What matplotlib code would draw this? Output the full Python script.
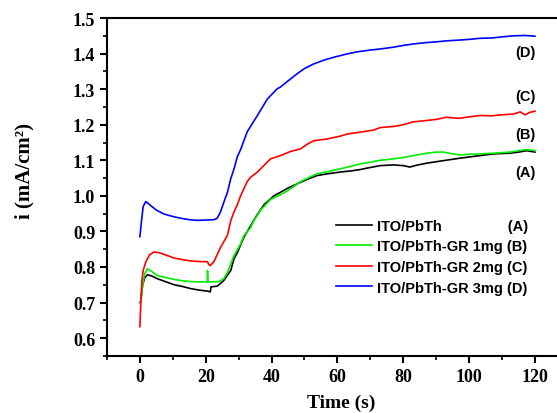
import matplotlib
matplotlib.use("Agg")
import matplotlib.pyplot as plt
from matplotlib.ticker import MultipleLocator

# ITO/PbTh (A)
t_a = [0, 0.3, 0.8, 1.5, 2.3, 3.5, 5.3, 8, 10.4, 13, 15.5, 18, 20.5, 21.4, 21.6,
       23.5, 25.5, 27.6, 28.6, 29.6, 31.6, 33.6, 35.5, 37.7, 40.7, 42.7, 45, 48.8,
       51, 53.8, 57, 60.9, 64, 67, 69, 73, 77, 80, 82, 84, 87.2, 92.2, 97.3,
       102.3, 107.4, 112.4, 115, 117.5, 120]
i_a = [0.70, 0.705, 0.748, 0.770, 0.778, 0.775, 0.767, 0.758, 0.750, 0.745, 0.739,
       0.735, 0.732, 0.730, 0.744, 0.746, 0.762, 0.790, 0.823, 0.840, 0.884, 0.915,
       0.945, 0.975, 1.000, 1.010, 1.022, 1.038, 1.047, 1.057, 1.062, 1.067, 1.070,
       1.074, 1.078, 1.085, 1.087, 1.085, 1.081, 1.086, 1.092, 1.099, 1.106, 1.112,
       1.118, 1.120, 1.123, 1.127, 1.123]

# ITO/PbTh-GR 1mg (B)
t_b = [0, 0.3, 0.8, 1.5, 2.3, 3.5, 5.3, 8, 10.4, 13, 15.5, 18, 20.5, 20.55, 20.65,
       24, 25.5, 26.6, 28.6, 30.6, 31.6, 33.6, 34.6, 36.7, 39.7, 42.7, 45, 48.8,
       51, 53.8, 57, 60.9, 64, 67, 69, 73, 77, 80, 83, 87.2, 90, 92.2, 95, 97.3,
       100, 103.3, 107.4, 112.4, 115, 117.5, 120]
i_b = [0.70, 0.705, 0.745, 0.782, 0.795, 0.788, 0.776, 0.770, 0.765, 0.761, 0.759,
       0.758, 0.758, 0.790, 0.758, 0.759, 0.767, 0.785, 0.832, 0.865, 0.888, 0.910,
       0.930, 0.960, 0.990, 1.003, 1.015, 1.040, 1.050, 1.062, 1.068, 1.076, 1.083,
       1.090, 1.093, 1.100, 1.104, 1.108, 1.113, 1.120, 1.123, 1.123, 1.118, 1.115,
       1.117, 1.118, 1.120, 1.123, 1.127, 1.130, 1.127]

# ITO/PbTh-GR 2mg (C)
t_c = [0, 0.3, 0.6, 1.0, 1.8, 3.0, 4.3, 5.9, 8.4, 10.4, 13.4, 15.5, 18.5, 20.5, 21.0,
       21.4, 22.5, 24.5, 26.6, 27.6, 28.6, 29.6, 30.6, 31.6, 32.6, 33.6, 35.7, 38.7,
       39.7, 42.7, 45.8, 48.8, 50.8, 52.8, 56.9, 60.9, 63, 67, 71, 73, 77, 80, 83,
       87.2, 90, 93.2, 97, 100, 103.3, 107, 110, 113.4, 115.5, 117, 118.5, 120]
i_c = [0.632, 0.70, 0.76, 0.79, 0.814, 0.835, 0.842, 0.840, 0.832, 0.825, 0.820,
       0.817, 0.815, 0.815, 0.806, 0.804, 0.815, 0.855, 0.889, 0.930, 0.955, 0.975,
       1.000, 1.020, 1.040, 1.052, 1.067, 1.095, 1.104, 1.113, 1.125, 1.132, 1.145,
       1.155, 1.160, 1.168, 1.174, 1.179, 1.185, 1.192, 1.195, 1.200, 1.208, 1.212,
       1.215, 1.221, 1.218, 1.222, 1.226, 1.225, 1.228, 1.230, 1.236, 1.228, 1.235,
       1.238]

# ITO/PbTh-GR 3mg (D)
t_d = [0, 0.5, 1.0, 1.8, 3.0, 5.0, 7.3, 10, 12.4, 15, 17.5, 20, 22.5, 23.5, 24.5,
       25.5, 26.6, 27.6, 28.6, 29.6, 30.6, 32.6, 35.7, 38.7, 41.7, 42.7, 45.8, 48,
       50, 52.8, 56, 59, 62.9, 66, 70, 73, 77, 80, 83, 87, 90, 93.2, 97, 100,
       103.3, 107, 110, 113.4, 117, 120]
i_d = [0.885, 0.93, 0.970, 0.984, 0.975, 0.960, 0.949, 0.942, 0.937, 0.933, 0.931,
       0.932, 0.933, 0.937, 0.955, 0.982, 1.010, 1.048, 1.076, 1.110, 1.130, 1.180,
       1.226, 1.272, 1.301, 1.306, 1.329, 1.345, 1.358, 1.371, 1.382, 1.390, 1.399,
       1.405, 1.410, 1.413, 1.418, 1.423, 1.427, 1.431, 1.433, 1.436, 1.438, 1.440,
       1.443, 1.444, 1.447, 1.450, 1.451, 1.449]

labels = ["ITO/PbTh" + " " * 16 + "(A)", "ITO/PbTh-GR 1mg (B)",
          "ITO/PbTh-GR 2mg (C)", "ITO/PbTh-GR 3mg (D)"]
tags = ["(A)", "(B)", "(C)", "(D)"]
tag_y = [1.067, 1.174, 1.28, 1.405]
colors = ["black", "#00ee00", "red", "blue"]

serif = "Liberation Serif"
sans = "Liberation Sans"

fig = plt.figure(figsize=(5.57, 4.14), dpi=100)
ax = fig.add_axes([0.192, 0.138, 0.808, 0.816])

for t, i, c, lab in zip([t_a, t_b, t_c, t_d], [i_a, i_b, i_c, i_d], colors, labels):
    ax.plot(t, i, color=c, lw=1.2, label=lab)

for tag, y in zip(tags, tag_y):
    ax.text(117, y, tag, family=sans, fontweight="bold", fontsize=10.5,
            ha="center", va="center")

ax.set_xlim(-10, 126.7)
ax.set_ylim(0.55, 1.5)
ax.xaxis.set_major_locator(MultipleLocator(20))
ax.xaxis.set_minor_locator(MultipleLocator(10))
ax.yaxis.set_minor_locator(MultipleLocator(0.05))
ax.set_yticks([0.6, 0.7, 0.8, 0.9, 1.0, 1.1, 1.2, 1.3, 1.4, 1.5])
ax.spines["right"].set_visible(False)
for s in ["left", "bottom", "top"]:
    ax.spines[s].set_linewidth(1.5)
ax.tick_params(which="major", direction="out", length=5, width=1.5)
ax.tick_params(which="minor", direction="out", length=3, width=1.2)
ax.tick_params(top=False, right=False)
for lbl in ax.get_xticklabels() + ax.get_yticklabels():
    lbl.set_family(serif)
    lbl.set_fontweight("bold")
    lbl.set_fontsize(13)

ax.set_xlabel("Time (s)", family=serif, fontweight="bold", fontsize=14)
ax.set_ylabel("i (mA/cm²)", family=serif, fontweight="bold", fontsize=15)
ax.xaxis.set_label_coords(0.52, -0.112)
ax.yaxis.set_label_coords(-0.16, 0.55)

leg = ax.legend(loc="upper left", bbox_to_anchor=(0.484, 0.44), frameon=False,
                prop={"family": sans, "weight": "bold", "size": 10.5},
                handlelength=2.45, handletextpad=0.35, labelspacing=0.45,
                borderpad=0.3)

fig.savefig("out.png", dpi=100)
